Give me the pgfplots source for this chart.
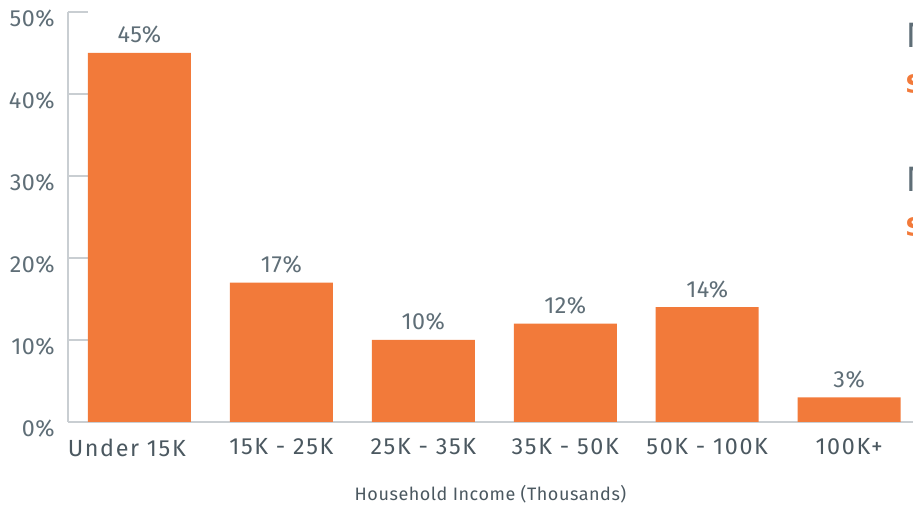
\documentclass[border=0pt]{standalone}
\usepackage{pgfplots}
\pgfplotsset{compat=1.18}
\usepackage{fontspec}
\setmainfont{Fira Sans}
\newfontfamily\dejavu{DejaVu Sans}
\definecolor{barorange}{HTML}{F27A3A}
\definecolor{ticktext}{HTML}{5F6E77}
\definecolor{labtext}{HTML}{4B5860}
\definecolor{axisgray}{HTML}{C9CED2}
\begin{document}
\begin{tikzpicture}
\useasboundingbox (0pt,0pt) rectangle (684.75pt,378.75pt);
\clip (0pt,0pt) rectangle (684.75pt,378.75pt);
\begin{axis}[
  at={(51pt,62.25pt)}, anchor=south west,
  scale only axis,
  width=633.75pt, height=307.5pt,
  xmin=-0.5035, xmax=5.45,
  ymin=0, ymax=50,
  axis lines*=left,
  axis line style={axisgray, line width=1.1pt},
  x axis line style={-},
  y axis line style={-},
  ybar, bar width=77.25pt,
  bar shift=0pt,
  xtick={0,1,2,3,4,5},
  xticklabels={Under 15K\hspace*{19pt}, 15K - 25K, 25K - 35K, 35K - 50K, 50K - 100K, 100K+},
  x tick label style={font=\fontsize{17.5}{20}\selectfont\addfontfeature{LetterSpace=7}, text=labtext, yshift=-9pt},
  ytick={0,10,20,30,40,50},
  yticklabels={0\%,10\%,20\%,30\%,40\%,50\%},
  y tick label style={font=\fontsize{17.5}{20}\selectfont\addfontfeature{LetterSpace=2}, text=ticktext, yshift=-5pt, xshift=-6.5pt},
  major x tick style={draw=none},
  major tick length=15pt,
  ytick style={axisgray, line width=1pt},
  tick align=inside,
  xlabel={Household Income (Thousands)},
  xlabel style={font=\fontsize{13.5}{15}\selectfont\addfontfeature{LetterSpace=3}, text=labtext, yshift=-15pt},
  /pgf/number format/assume math mode=true,
  nodes near coords={\pgfmathprintnumber{\pgfplotspointmeta}\%},
  every node near coord/.append style={font=\fontsize{17.5}{20}\selectfont\addfontfeature{LetterSpace=2}, text=ticktext, yshift=3.5pt},
  clip=false,
]
\addplot[fill=barorange, draw=none] coordinates {(0,45) (1,17) (2,10) (3,12) (4,14) (5,3)};
\end{axis}
\node[anchor=base west, inner sep=0pt, text=ticktext, font=\fontsize{25}{28}\dejavu] at (680pt,342.75pt) {M};
\node[anchor=base west, inner sep=0pt, text=barorange, font=\fontsize{22}{24}\dejavu\bfseries] at (678.5pt,308.25pt) {\$};
\node[anchor=base west, inner sep=0pt, text=ticktext, font=\fontsize{25}{28}\dejavu] at (680pt,234.75pt) {M};
\node[anchor=base west, inner sep=0pt, text=barorange, font=\fontsize{22}{24}\dejavu\bfseries] at (678.5pt,201pt) {\$};
\end{tikzpicture}
\end{document}
